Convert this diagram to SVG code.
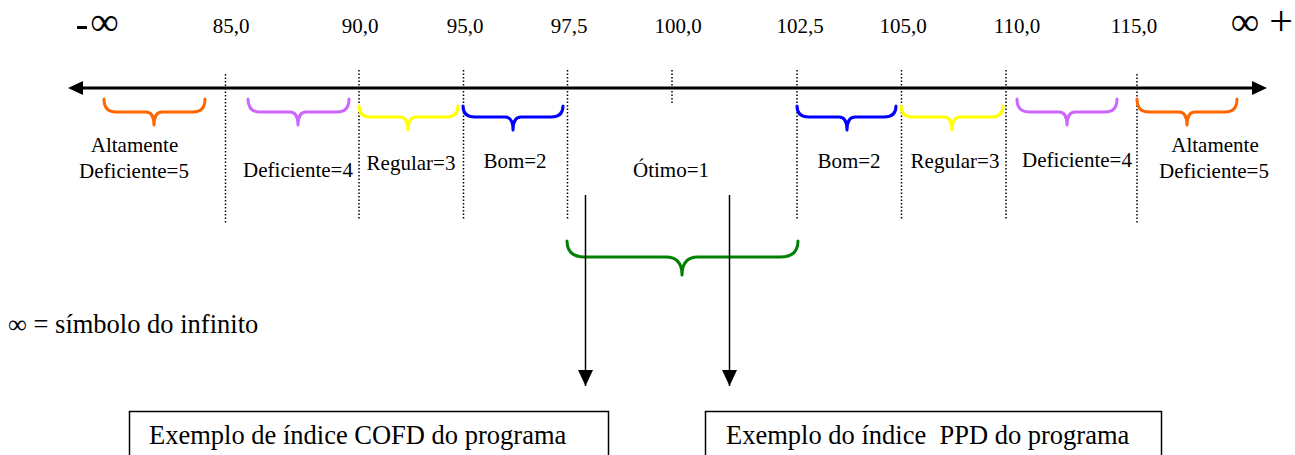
<svg xmlns="http://www.w3.org/2000/svg" width="1295" height="455" viewBox="0 0 1295 455">
<style>
.t{font-size:21px;fill:#000;text-anchor:middle}
.dot{stroke:#000;stroke-width:1.5;stroke-dasharray:1.5,2;fill:none}
.br{fill:none;stroke-width:3;stroke-linecap:round;stroke-linejoin:round}
.box{fill:#fff;stroke:#000;stroke-width:1.5}
.bt{font-size:26.5px;fill:#000}
</style>
<defs>
<marker id="ah" viewBox="0 0 16 15" refX="16" refY="7.5" markerWidth="16" markerHeight="15" markerUnits="userSpaceOnUse" orient="auto"><path d="M0,0 L16,7.5 L0,15 Z" fill="#000"/></marker>
</defs>
<rect width="1295" height="455" fill="#fff"/>
<g font-family="Liberation Serif, Times New Roman, serif">
<g id="axis">
<line x1="80" y1="88" x2="1254" y2="88" stroke="#000" stroke-width="3"/>
<path d="M68,88 L83,81 L83,95 Z" fill="#000"/>
<path d="M1267,88 L1252,81 L1252,95 Z" fill="#000"/>
<rect x="77" y="26" width="10" height="3" fill="#000"/>
<text x="104.5" y="35" font-size="40" text-anchor="middle">∞</text>
<text x="1245" y="35" font-size="40" text-anchor="middle">∞</text>
<text x="1281" y="35" font-size="42" text-anchor="middle">+</text>
</g>
<g id="ticks">
<line class="dot" x1="225.5" y1="74" x2="225.5" y2="224"/>
<line class="dot" x1="359" y1="70" x2="359" y2="219"/>
<line class="dot" x1="463.5" y1="70" x2="463.5" y2="219"/>
<line class="dot" x1="567.5" y1="70" x2="567.5" y2="219"/>
<line class="dot" x1="672" y1="70" x2="672" y2="104"/>
<line class="dot" x1="797" y1="70" x2="797" y2="219"/>
<line class="dot" x1="901.5" y1="70" x2="901.5" y2="219"/>
<line class="dot" x1="1006" y1="70" x2="1006" y2="219"/>
<line class="dot" x1="1137" y1="74" x2="1137" y2="224"/>
<text class="t" x="231" y="33">85,0</text>
<text class="t" x="360" y="33">90,0</text>
<text class="t" x="465" y="33">95,0</text>
<text class="t" x="569" y="33">97,5</text>
<text class="t" x="678" y="33">100,0</text>
<text class="t" x="800" y="33">102,5</text>
<text class="t" x="903" y="33">105,0</text>
<text class="t" x="1017" y="33">110,0</text>
<text class="t" x="1134" y="33">115,0</text>
</g>
<g id="braces">
<path class="br" stroke="#ff6600" d="M104,99 Q104,112 116,112 L146,112 Q154,112 154,125 Q154,112 162,112 L193,112 Q205,112 205,99"/>
<path class="br" stroke="#cc66ff" d="M248,99 Q248,112 260,112 L290,112 Q298,112 298,125 Q298,112 306,112 L337,112 Q349,112 349,99"/>
<path class="br" stroke="#ffff00" d="M359,106 Q359,117 371,117 L400,117 Q408,117 408,130 Q408,117 416,117 L446,117 Q458,117 458,106"/>
<path class="br" stroke="#0000ff" d="M463,106 Q463,117 475,117 L505,117 Q513,117 513,130 Q513,117 521,117 L551,117 Q563,117 563,106"/>
<path class="br" stroke="#0000ff" d="M797,106 Q797,117 809,117 L839,117 Q847,117 847,130 Q847,117 855,117 L884,117 Q896,117 896,106"/>
<path class="br" stroke="#ffff00" d="M901,106 Q901,117 913,117 L944,117 Q952,117 952,130 Q952,117 960,117 L991,117 Q1003,117 1003,106"/>
<path class="br" stroke="#cc66ff" d="M1017,99 Q1017,112 1029,112 L1059,112 Q1067,112 1067,125 Q1067,112 1075,112 L1105,112 Q1117,112 1117,99"/>
<path class="br" stroke="#ff6600" d="M1137,99 Q1137,112 1149,112 L1179,112 Q1187,112 1187,125 Q1187,112 1195,112 L1225,112 Q1237,112 1237,99"/>
</g>
<g id="labels">
<text class="t" x="134.5" y="152">Altamente</text>
<text class="t" x="134" y="178">Deficiente=5</text>
<text class="t" x="298" y="177">Deficiente=4</text>
<text class="t" x="411" y="170">Regular=3</text>
<text class="t" x="515" y="168">Bom=2</text>
<text class="t" x="671" y="177">Ótimo=1</text>
<text class="t" x="849" y="168">Bom=2</text>
<text class="t" x="955" y="168">Regular=3</text>
<text class="t" x="1077" y="167">Deficiente=4</text>
<text class="t" x="1215" y="152">Altamente</text>
<text class="t" x="1214" y="178">Deficiente=5</text>
</g>
<g id="green-brace">
<path class="br" stroke="#008000" stroke-width="2.5" d="M567,241 Q567,257 585,257 L666,257 Q682,257 682,275 Q682,257 698,257 L780,257 Q798,257 798,241"/>
</g>
<g id="connectors">
<line x1="585.5" y1="195" x2="585.5" y2="386" stroke="#000" stroke-width="1.5" marker-end="url(#ah)"/>
<line x1="729.5" y1="195" x2="729.5" y2="386" stroke="#000" stroke-width="1.5" marker-end="url(#ah)"/>
</g>
<g id="legend">
<text class="bt" x="8" y="333">∞ = símbolo do infinito</text>
</g>
<g id="box-cofd">
<rect class="box" x="129.5" y="411.5" width="479" height="60"/>
<text class="bt" x="149" y="444">Exemplo de índice COFD do programa</text>
</g>
<g id="box-ppd">
<rect class="box" x="705.5" y="411.5" width="456" height="60"/>
<text class="bt" x="726" y="444" xml:space="preserve">Exemplo do índice  PPD do programa</text>
</g>
</g>
</svg>
